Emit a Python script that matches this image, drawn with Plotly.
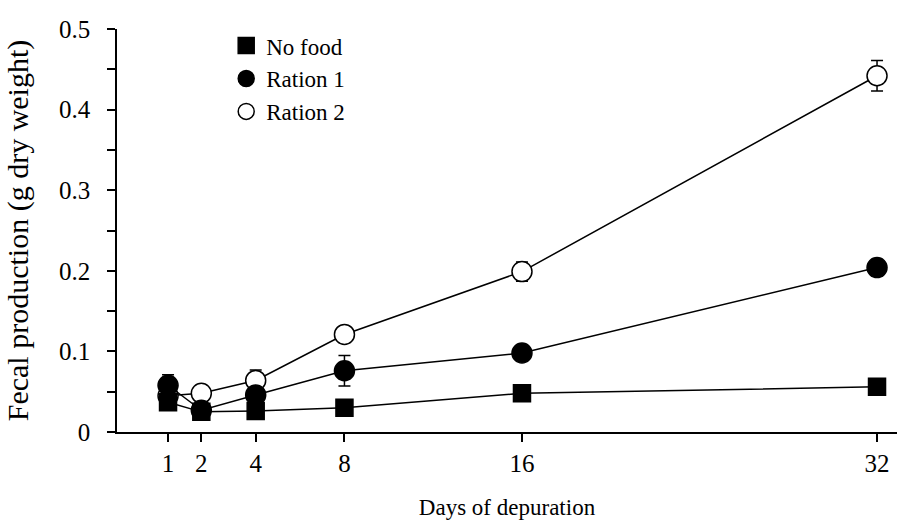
import plotly.graph_objects as go

# Sampling days and their placement along the horizontal axis
days = [1, 2, 4, 8, 16, 32]
day_axis_pos = [0.05, 1.55, 4, 8, 16, 32]

# Fecal production (g dry weight) and standard errors
no_food = [0.037, 0.025, 0.026, 0.030, 0.048, 0.056]
no_food_err = [0.0, 0.0, 0.0, 0.0, 0.0, 0.0]
ration1 = [0.058, 0.027, 0.046, 0.076, 0.098, 0.204]
ration1_err = [0.013, 0.0, 0.0, 0.019, 0.0, 0.010]
ration2 = [0.045, 0.048, 0.064, 0.121, 0.199, 0.442]
ration2_err = [0.0, 0.0, 0.013, 0.0, 0.012, 0.019]

y_ticks = [0, 0.1, 0.2, 0.3, 0.4, 0.5]
y_tick_text = ["0", "0.1", "0.2", "0.3", "0.4", "0.5"]

FONT = "Liberation Serif, Times New Roman, serif"

series = [
    ("Ration 2", ration2, ration2_err, "circle-open", 20, "white"),
    ("Ration 1", ration1, ration1_err, "circle", 20, "black"),
    ("No food", no_food, no_food_err, "square", 17, "black"),
]

fig = go.Figure()

for name, vals, err, sym, size, fill in series:
    fig.add_trace(go.Scatter(
        x=day_axis_pos, y=vals,
        mode="lines+markers",
        name=name,
        showlegend=False,
        line=dict(color="black", width=1.5),
        marker=dict(symbol="circle" if sym == "circle-open" else sym,
                    size=size, color=fill,
                    line=dict(color="black", width=1.5)),
        error_y=dict(type="data", array=err, visible=True,
                     color="black", thickness=1.5, width=6),
    ))

# Legend entries show the marker alone
for name, vals, err, sym, size, fill in reversed(series):
    fig.add_trace(go.Scatter(
        x=[None], y=[None],
        mode="markers",
        name=name,
        marker=dict(symbol="circle" if sym == "circle-open" else sym,
                    size=size, color=fill,
                    line=dict(color="black", width=1.5)),
    ))

fig.update_layout(
    width=897, height=520,
    margin=dict(l=117, r=0, t=29, b=88),
    paper_bgcolor="white",
    plot_bgcolor="white",
    font=dict(family=FONT, size=22, color="black"),
    showlegend=True,
    legend=dict(
        x=0.14, y=1.012, xanchor="left", yanchor="top",
        bgcolor="rgba(0,0,0,0)",
        font=dict(family=FONT, size=23),
        itemsizing="trace",
        tracegroupgap=0,
    ),
    xaxis=dict(
        range=[-2.25, 32.9],
        tickmode="array",
        tickvals=day_axis_pos,
        ticktext=[str(d) for d in days],
        ticks="outside", ticklen=8, tickwidth=1.5, tickcolor="black",
        showline=True, linecolor="black", linewidth=1.5,
        showgrid=False, zeroline=False,
        tickfont=dict(family=FONT, size=25),
        title=dict(text="Days of depuration", standoff=26,
                   font=dict(family=FONT, size=23)),
    ),
    yaxis=dict(
        range=[0, 0.5],
        tickmode="array",
        tickvals=y_ticks,
        ticktext=y_tick_text,
        ticks="outside", ticklen=8, tickwidth=1.5, tickcolor="black",
        minor=dict(dtick=0.05, tick0=0, ticks="outside", ticklen=8,
                   tickwidth=1.5, tickcolor="black", showgrid=False),
        showline=True, linecolor="black", linewidth=1.5,
        showgrid=False, zeroline=False,
        ticklabelstandoff=12,
        tickfont=dict(family=FONT, size=25),
        title=dict(text="Fecal production (g dry weight)", standoff=22,
                   font=dict(family=FONT, size=30)),
    ),
)

fig.write_html("out.html")
